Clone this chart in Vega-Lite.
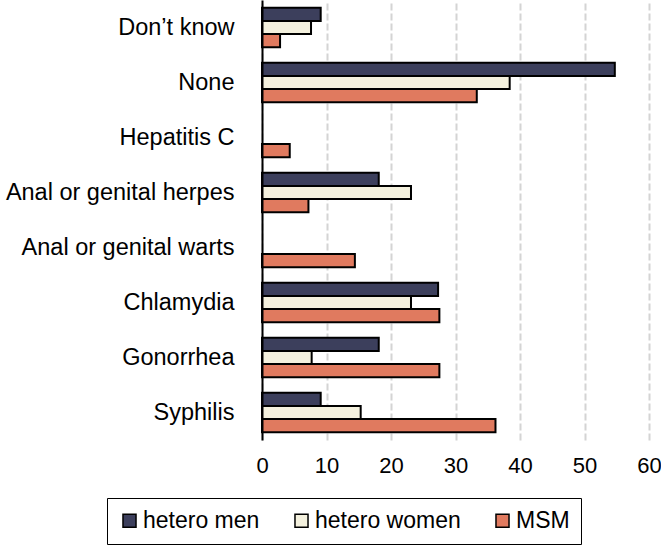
{
  "$schema": "https://vega.github.io/schema/vega-lite/v6.json",
  "autosize": "none",
  "width": 387,
  "height": 440,
  "padding": {"left": 262, "top": 0, "right": 12, "bottom": 105},
  "background": "white",
  "config": {
    "font": "Liberation Sans",
    "view": {"stroke": null}
  },
  "data": {
    "values": [
      {"cat": "Don’t know", "group": "hetero men", "value": 9.1},
      {"cat": "Don’t know", "group": "hetero women", "value": 7.6},
      {"cat": "Don’t know", "group": "MSM", "value": 2.8},
      {"cat": "None", "group": "hetero men", "value": 54.7},
      {"cat": "None", "group": "hetero women", "value": 38.4},
      {"cat": "None", "group": "MSM", "value": 33.3},
      {"cat": "Hepatitis C", "group": "MSM", "value": 4.3},
      {"cat": "Anal or genital herpes", "group": "hetero men", "value": 18.1},
      {"cat": "Anal or genital herpes", "group": "hetero women", "value": 23.1},
      {"cat": "Anal or genital herpes", "group": "MSM", "value": 7.2},
      {"cat": "Anal or genital warts", "group": "MSM", "value": 14.4},
      {"cat": "Chlamydia", "group": "hetero men", "value": 27.3},
      {"cat": "Chlamydia", "group": "hetero women", "value": 23.1},
      {"cat": "Chlamydia", "group": "MSM", "value": 27.5},
      {"cat": "Gonorrhea", "group": "hetero men", "value": 18.1},
      {"cat": "Gonorrhea", "group": "hetero women", "value": 7.7},
      {"cat": "Gonorrhea", "group": "MSM", "value": 27.5},
      {"cat": "Syphilis", "group": "hetero men", "value": 9.1},
      {"cat": "Syphilis", "group": "hetero women", "value": 15.3},
      {"cat": "Syphilis", "group": "MSM", "value": 36.2}
    ]
  },
  "mark": {"type": "bar", "stroke": "black", "strokeWidth": 2},
  "encoding": {
    "y": {
      "field": "cat",
      "type": "nominal",
      "sort": ["Don’t know", "None", "Hepatitis C", "Anal or genital herpes", "Anal or genital warts", "Chlamydia", "Gonorrhea", "Syphilis"],
      "scale": {"paddingInner": 0.28, "paddingOuter": 0.14},
      "axis": {
        "title": null,
        "domain": true,
        "domainColor": "black",
        "domainWidth": 2,
        "ticks": false,
        "labelFontSize": 23.5,
        "labelLimit": 300,
        "labelColor": "black",
        "labelPadding": 28,
        "zindex": 1
      }
    },
    "yOffset": {
      "field": "group",
      "type": "nominal",
      "sort": ["hetero men", "hetero women", "MSM"],
      "scale": {"paddingInner": 0, "paddingOuter": 0}
    },
    "x": {
      "field": "value",
      "type": "quantitative",
      "scale": {"domain": [0, 60], "nice": false},
      "axis": {
        "title": null,
        "values": [0, 10, 20, 30, 40, 50, 60],
        "domain": false,
        "ticks": false,
        "grid": true,
        "gridColor": "#d4d4d4",
        "gridDash": [7, 3],
        "gridWidth": 2,
        "labelFontSize": 22,
        "labelColor": "black",
        "labelPadding": 15,
        "labelFlush": false
      }
    },
    "fill": {
      "field": "group",
      "type": "nominal",
      "sort": ["hetero men", "hetero women", "MSM"],
      "scale": {
        "domain": ["hetero men", "hetero women", "MSM"],
        "range": ["#3c3f5c", "#f4f1de", "#e07a5f"]
      },
      "legend": {
        "title": null,
        "orient": "none",
        "direction": "horizontal",
        "legendX": -155,
        "legendY": 498,
        "symbolType": "square",
        "symbolSize": 170,
        "symbolStrokeColor": "black",
        "symbolStrokeWidth": 1.5,
        "labelFontSize": 23,
        "labelColor": "black",
        "labelOffset": 2,
        "columnPadding": 30,
        "strokeColor": "black",
        "padding": 11,
        "fillColor": "white"
      }
    }
  }
}
